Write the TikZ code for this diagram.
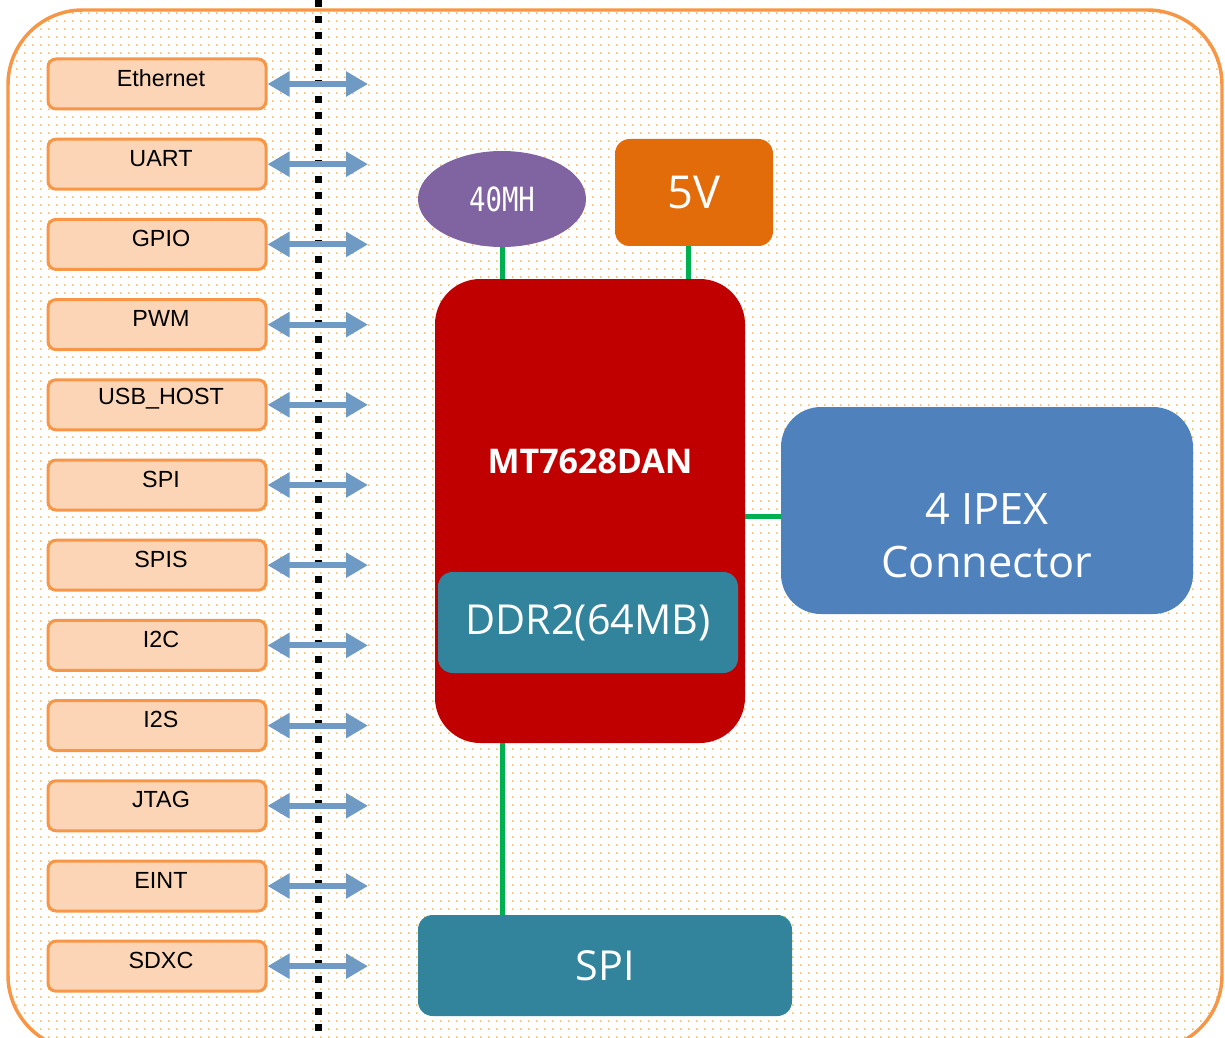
\documentclass[tikz,border=0pt]{standalone}
\usepackage{fontspec}
\setmainfont{Liberation Sans}
\newfontfamily\boxfont{Open Sans}
\newfontfamily\oscfont{DejaVu Sans Mono}
\usetikzlibrary{shapes, arrows.meta, positioning, patterns.meta}

\definecolor{frameorange}{HTML}{F79646}
\definecolor{dotyellow}{HTML}{F4C260}
\definecolor{portfill}{HTML}{FBD5B5}
\definecolor{busblue}{HTML}{6F9AC4}
\definecolor{oscpurple}{HTML}{8064A2}
\definecolor{pwrorange}{HTML}{E36C0A}
\definecolor{socred}{HTML}{C00000}
\definecolor{memteal}{HTML}{31849B}
\definecolor{ipexblue}{HTML}{4F81BD}
\definecolor{wiregreen}{HTML}{00B050}

\tikzdeclarepattern{name=bgdots, type=uncolored,
  bounding box={(0pt,0pt) and (6pt,6pt)}, tile size={(6pt,6pt)},
  code={\pgfpathrectangle{\pgfpoint{0pt}{0pt}}{\pgfpoint{1.4pt}{1.4pt}}\pgfusepath{fill}}}

\begin{document}
\begin{tikzpicture}[x=0.75pt, y=-0.75pt,
  portbox/.style={rectangle, rounded corners=6pt, draw=frameorange, line width=2.25pt, fill=portfill, minimum width=163.5pt, minimum height=37.5pt, inner sep=0pt},
  portlabel/.style={font=\fontsize{17.5}{20}\selectfont, text=black, xshift=3pt, yshift=4.5pt},
  busarrow/.style={draw=busblue, line width=4.5pt, >={Triangle[length=16.5pt,width=18pt]}, <->},
  wire/.style={draw=wiregreen, line width=3.75pt},
  block/.style={rectangle, rounded corners=11pt, inner sep=0pt, text=white, font=\boxfont\fontsize{31}{36}\selectfont}]
    \useasboundingbox (0,0) rectangle (1225,1038);
    \clip (0,0) rectangle (1225,1038);

    % Frame with dotted background
    \fill[white, rounded corners=56pt] (8,10) rectangle (1222,1050);
    \fill[pattern=bgdots, pattern color=dotyellow, rounded corners=56pt] (8,10) rectangle (1222,1050);
    \draw[frameorange, line width=2.6pt, rounded corners=56pt] (8,10) rectangle (1222,1050);

    % Module edge
    \draw[line width=5.25pt, dash pattern=on 5.25pt off 6.75pt] (318,0) -- (318,1038);

    % Interfaces on the left
    \foreach \name [count=\i] in {Ethernet,UART,GPIO,PWM,USB\_HOST,SPI,SPIS,I2C,I2S,JTAG,EINT,SDXC} {
        \pgfmathsetmacro\py{84+80.2*(\i-1)}
        \node[portbox, label={[portlabel]center:\name}] (port-\i) at (157,\py) {};
        \coordinate (bus-\i) at (368,\py);
        \draw[busarrow] (port-\i.east) -- (bus-\i);
    }

    % Chip and peripherals
    \node[ellipse, fill=oscpurple, minimum width=126pt, minimum height=72pt, inner sep=0pt, text=white, font=\oscfont\fontsize{25}{28}\selectfont] (osc) at (502,199) {\scalebox{0.82}[1]{40MH}};
    \node[block, fill=pwrorange, minimum width=118.5pt, minimum height=80.25pt, font=\boxfont\fontsize{34}{40}\selectfont] (pwr) at (694,192.5) {5V};
    \node[block, rounded corners=34pt, fill=socred, minimum width=232.5pt, minimum height=348pt,
          label={[font=\boxfont\bfseries\fontsize{25.5}{30}\selectfont, text=white, yshift=37.5pt]center:MT7628DAN}] (soc) at (590,511) {};
    \node[block, fill=memteal, minimum width=225pt, minimum height=75.75pt] (ddr) at (588,622.5) {DDR2(64MB)};
    \node[block, rounded corners=30pt, fill=ipexblue, minimum width=309pt, minimum height=155.25pt,
          label={[align=center, font=\boxfont\fontsize{32.5}{40}\selectfont, text=white, yshift=-18.75pt]center:{4 IPEX\\Connector}}] (ipex) at (987,510.5) {};
    \node[block, fill=memteal, minimum width=280.5pt, minimum height=75.75pt] (spi) at (605,965.5) {SPI};

    % Green links
    \coordinate (pwr-pin) at ([xshift=-4.5pt]pwr.south);
    \coordinate (ipex-pin) at ([yshift=-4.5pt]ipex.west);
    \draw[wire] (osc.south) -- (osc.south |- soc.north);
    \draw[wire] (pwr-pin) -- (pwr-pin |- soc.north);
    \draw[wire] (ipex-pin) -- (ipex-pin -| soc.east);
    \draw[wire] (spi.north -| osc.south) -- (soc.south -| osc.south);
\end{tikzpicture}
\end{document}
